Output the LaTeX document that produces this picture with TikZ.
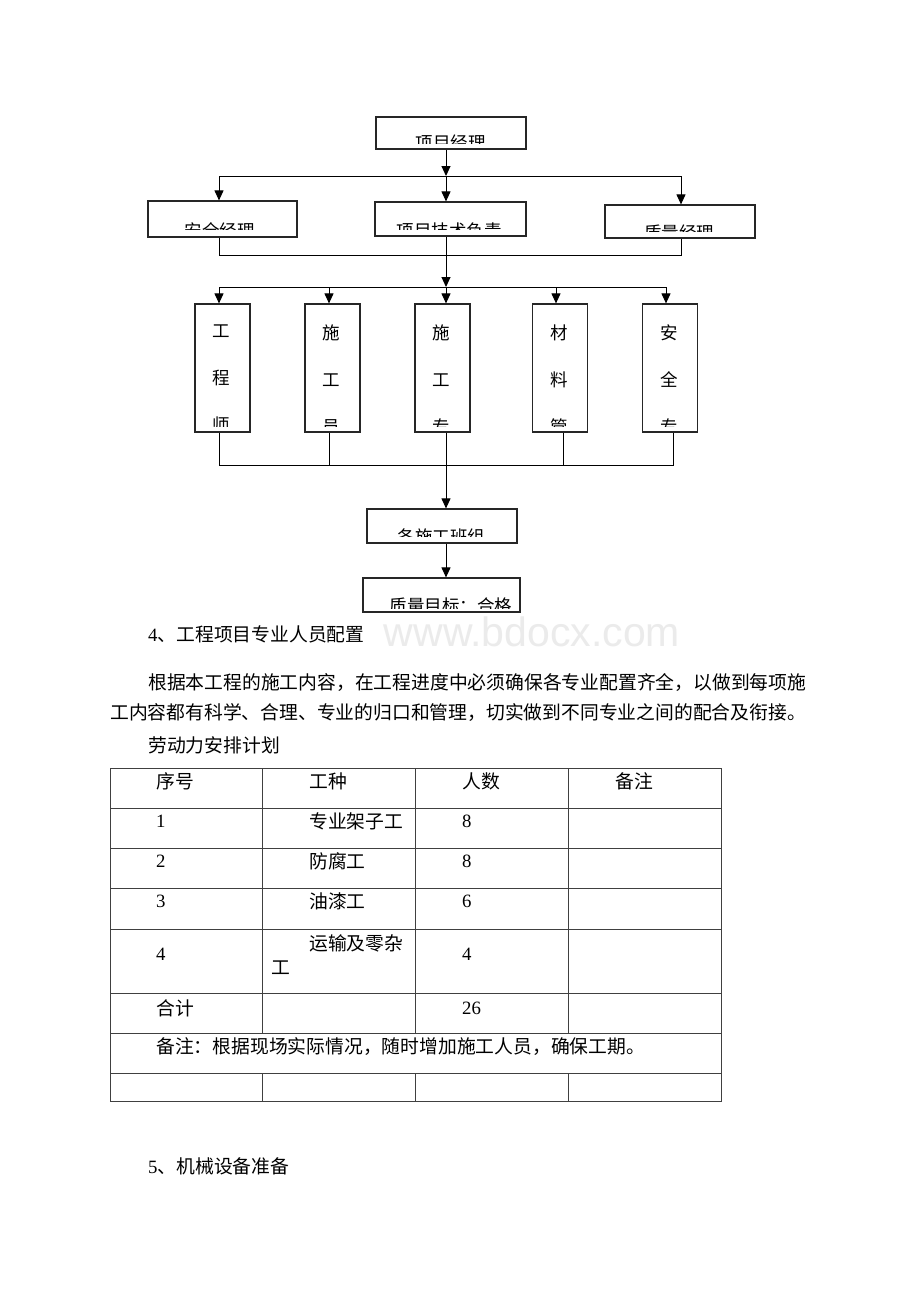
\documentclass[tikz,border=0pt]{standalone}
\usepackage{fontspec}
\setmainfont{Liberation Serif}
\newfontfamily\cjk{Noto Sans CJK SC}
\newfontfamily\wmfont{Liberation Sans}
\usetikzlibrary{arrows.meta}
\begin{document}
\begin{tikzpicture}[x=1pt,y=-1pt,
  box/.style={draw=black!85,line width=1.2pt,inner sep=0pt},
  ln/.style={line width=1pt},
  arr/.style={line width=1pt,-{Triangle[length=10pt,width=9pt]}},
  lbl/.style={font=\fontsize{17.5}{17.5}\selectfont\cjk,inner sep=0pt,anchor=north},
  vlbl/.style={font=\fontsize{17.5}{46.7}\selectfont\cjk,inner sep=0pt,anchor=north,align=center},
  body/.style={font=\fontsize{18.8}{18.8}\selectfont\cjk,inner sep=0pt,anchor=west},
  num/.style={font=\fontsize{18.8}{18.8}\selectfont,inner sep=0pt,anchor=west},
  tline/.style={draw=black!75,line width=0.9pt}]
\fill[white] (0,0) rectangle (920,1302);
\useasboundingbox (0,0) rectangle (920,1302);

% watermark
\node[font=\fontsize{41}{41}\selectfont\wmfont,text=black!8,inner sep=0pt] (wm) at (532,632) {www.bdocx.com};

% ---------- flowchart boxes ----------
\node[box,minimum width=150pt,minimum height=32pt] (pm) at (451,133) {};
\node[box,minimum width=149pt,minimum height=36pt] (safe) at (222.5,219) {};
\node[box,minimum width=151pt,minimum height=34pt] (tech) at (450.5,219) {};
\node[box,minimum width=150pt,minimum height=33pt] (qual) at (680,221.5) {};
\foreach \n/\x in {v1/222.5,v2/332.5,v3/442.5,v4/560,v5/670}
  \node[box,minimum width=55pt,minimum height=128pt] (\n) at (\x,368) {};
\node[box,minimum width=150pt,minimum height=34pt] (team) at (442,526) {};
\node[box,minimum width=157pt,minimum height=34pt] (qc) at (441.5,595) {};

% clipped labels
\begin{scope}\clip (378,119) rectangle (524,143.5);
\node[lbl] (tpm) at (450.5,135) {项目经理};\end{scope}
\begin{scope}\clip (150,203) rectangle (295,229);
\node[lbl] (tsafe) at (219.5,222) {安全经理};\end{scope}
\begin{scope}\clip (377,204) rectangle (524,229.3);
\node[lbl] (ttech) at (449,222.7) {项目技术负责};\end{scope}
\begin{scope}\clip (607,207) rectangle (753,231);
\node[lbl] (tqual) at (679,225) {质量经理};\end{scope}
\begin{scope}\clip (369,511) rectangle (515,536);
\node[lbl] (tteam) at (441.5,528) {各施工班组};\end{scope}
\begin{scope}\clip (365,580) rectangle (518,608);
\node[lbl] (tqc) at (451,598) {质量目标：合格};\end{scope}
\begin{scope}\clip (197,306) rectangle (248,426);
\node[vlbl] (t1) at (221.3,325) {工\\程\\师};\end{scope}
\begin{scope}\clip (307,306) rectangle (358,426);
\node[vlbl] (t2) at (331.7,325) {施\\工\\员};\end{scope}
\begin{scope}\clip (417,306) rectangle (468,426);
\node[vlbl] (t3) at (441,325) {施\\工\\专};\end{scope}
\begin{scope}\clip (535,306) rectangle (585,426);
\node[vlbl] (t4) at (559,325) {材\\料\\管};\end{scope}
\begin{scope}\clip (644,306) rectangle (695,426);
\node[vlbl] (t5) at (669,325) {安\\全\\专};\end{scope}

% ---------- junction coordinates ----------
\coordinate (h1L) at (219,176);
\coordinate (h1M) at (446,176);
\coordinate (h1R) at (681,176);
\coordinate (h2L) at (219,255);
\coordinate (h2M) at (446,255);
\coordinate (h2R) at (681,255);
\coordinate (h3L) at (219,287);
\coordinate (h3B) at (329,287);
\coordinate (h3M) at (446,287);
\coordinate (h3D) at (556,287);
\coordinate (h3R) at (666,287);
\coordinate (h4L) at (219,465);
\coordinate (h4B) at (329,465);
\coordinate (h4M) at (446,465);
\coordinate (h4D) at (563.7,465);
\coordinate (h4R) at (673.7,465);

% ---------- connectors ----------
\draw[arr] (pm.south -| h1M) -- (h1M);
\draw[ln] (h1L) -- (h1R);
\draw[arr] (h1L) -- (safe.north -| h1L);
\draw[arr] (h1M) -- (tech.north -| h1M);
\draw[arr] (h1R) -- (qual.north -| h1R);
\draw[ln] (safe.south -| h2L) -- (h2L) -- (h2R) -- (qual.south -| h2R);
\draw[ln] (tech.south -| h2M) -- (h2M);
\draw[arr] (h2M) -- (h3M);
\draw[ln] (h3L) -- (h3R);
\draw[arr] (h3L) -- (v1.north -| h3L);
\draw[arr] (h3B) -- (v2.north -| h3B);
\draw[arr] (h3M) -- (v3.north -| h3M);
\draw[arr] (h3D) -- (v4.north -| h3D);
\draw[arr] (h3R) -- (v5.north -| h3R);
\draw[ln] (v1.south -| h4L) -- (h4L) -- (h4R) -- (v5.south -| h4R);
\draw[ln] (v2.south -| h4B) -- (h4B);
\draw[ln] (v3.south -| h4M) -- (h4M);
\draw[ln] (v4.south -| h4D) -- (h4D);
\draw[arr] (h4M) -- (team.north -| h4M);
\draw[arr] (team.south -| h4M) -- (qc.north -| h4M);

% ---------- body text ----------
\node[body] (s4) at (148,634) {{\rmfamily 4}、工程项目专业人员配置};
\node[body] (p1) at (148,682) {根据本工程的施工内容，在工程进度中必须确保各专业配置齐全，以做到每项施};
\node[body] (p2) at (110,713) {工内容都有科学、合理、专业的归口和管理，切实做到不同专业之间的配合及衔接。};
\node[body] (p3) at (148,745) {劳动力安排计划};
\node[body] (s5) at (148,1166) {{\rmfamily 5}、机械设备准备};

% ---------- table ----------
\draw[tline] (110,768) rectangle (721,1101);
\foreach \y in {808,848,888,929,993,1033,1073}
  \draw[tline] (110,\y) -- (721,\y);
\foreach \x in {262,415,568}{
  \draw[tline] (\x,768) -- (\x,1033);
  \draw[tline] (\x,1073) -- (\x,1101);}

\node[body] (c11) at (156,781) {序号};
\node[body] (c12) at (309,781) {工种};
\node[body] (c13) at (462,781) {人数};
\node[body] (c14) at (615,781) {备注};
\node[num] (c21) at (156,821) {1};
\node[body] (c22) at (309,821) {专业架子工};
\node[num] (c23) at (462,821) {8};
\node[num] (c31) at (156,861) {2};
\node[body] (c32) at (309,861) {防腐工};
\node[num] (c33) at (462,861) {8};
\node[num] (c41) at (156,901) {3};
\node[body] (c42) at (309,901) {油漆工};
\node[num] (c43) at (462,901) {6};
\node[num] (c51) at (156,954) {4};
\node[body] (c52) at (309,943) {运输及零杂};
\node[body] (c52b) at (271,968) {工};
\node[num] (c53) at (462,954) {4};
\node[body] (c61) at (156,1008) {合计};
\node[num] (c63) at (462,1008) {26};
\node[body] (c71) at (156,1047) {备注：根据现场实际情况，随时增加施工人员，确保工期。};
\end{tikzpicture}
\end{document}
